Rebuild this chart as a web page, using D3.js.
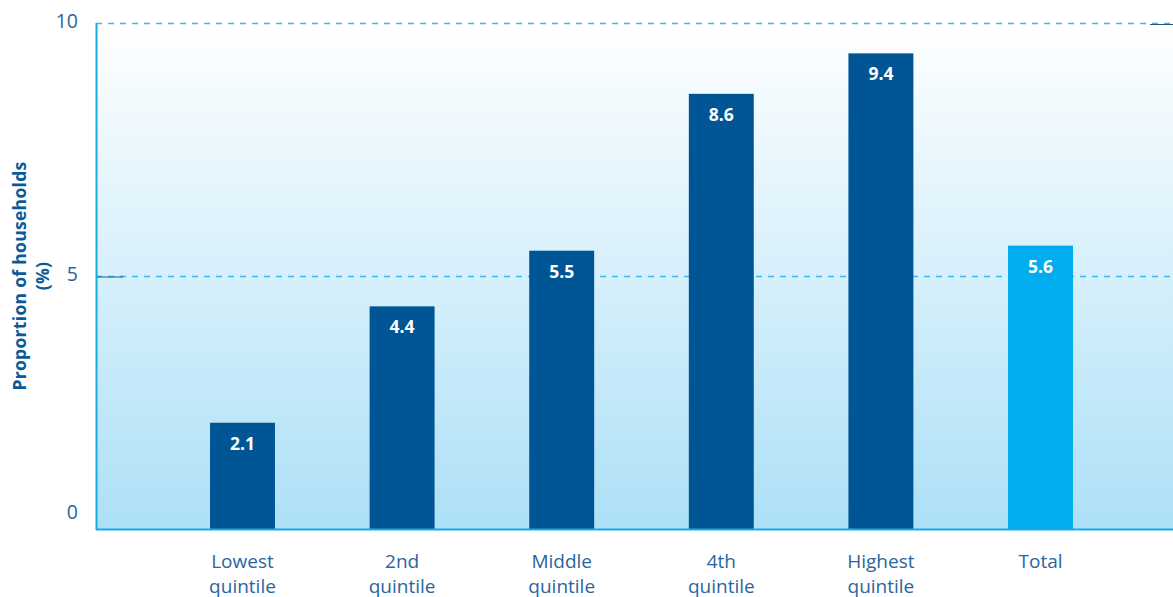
<!DOCTYPE html>
<html>
<head>
<meta charset="utf-8">
<script src="https://cdn.jsdelivr.net/npm/d3@7"></script>
<style>
  html, body { margin: 0; padding: 0; background: #ffffff; }
  svg { display: block; }
</style>
</head>
<body>
<svg id="chart" width="1173" height="597"></svg>
<script>
// Share of households by income quintile
const categories = [["Lowest", "quintile"], ["2nd", "quintile"], ["Middle", "quintile"], ["4th", "quintile"], ["Highest", "quintile"], ["Total"]];
const values = [2.1, 4.4, 5.5, 8.6, 9.4, 5.6];
const isTotal = [false, false, false, false, false, true];
const yTicks = [0, 5, 10];
const yTitle = ["Proportion of households", "(%)"];

const W = 1173, H = 597;
const plot = { left: 96, right: 1173, top: 23, bottom: 529 };

const svg = d3.select("#chart");

const keys = categories.map(c => c.join(" "));
const x = d3.scaleBand()
  .domain(keys)
  .range([162.7, 1120.3])
  .paddingInner(0.593)
  .paddingOuter(0.2965);

const y = d3.scaleLinear().domain([0, 10]).range([plot.bottom, plot.top]);

// background gradient of the plotting area
const defs = svg.append("defs");
const grad = defs.append("linearGradient")
  .attr("id", "bg").attr("x1", 0).attr("y1", 0).attr("x2", 0).attr("y2", 1);
grad.append("stop").attr("offset", "0%").attr("stop-color", "#ffffff");
grad.append("stop").attr("offset", "100%").attr("stop-color", "#ade0f7");

svg.append("rect")
  .attr("x", plot.left).attr("y", plot.top)
  .attr("width", plot.right - plot.left)
  .attr("height", plot.bottom - plot.top)
  .attr("fill", "url(#bg)");

// dashed gridlines
svg.append("g")
  .selectAll("line")
  .data(yTicks.filter(t => t > 0))
  .join("line")
  .attr("x1", plot.left).attr("x2", plot.right)
  .attr("y1", d => y(d) + 0.5).attr("y2", d => y(d) + 0.5)
  .attr("stroke", "#3cb8ea")
  .attr("stroke-width", 1.3)
  .attr("stroke-dasharray", "6,6");

// short dark tick marks
svg.append("line")
  .attr("x1", plot.left).attr("x2", plot.left + 27)
  .attr("y1", y(5) + 1).attr("y2", y(5) + 1)
  .attr("stroke", "#1b5a8c").attr("stroke-width", 1);
svg.append("line")
  .attr("x1", plot.right - 23).attr("x2", plot.right)
  .attr("y1", y(10) + 1.5).attr("y2", y(10) + 1.5)
  .attr("stroke", "#1b5a8c").attr("stroke-width", 1);

// bars
const data = keys.map((k, i) => ({ key: k, value: values[i], total: isTotal[i] }));
svg.append("g")
  .selectAll("rect")
  .data(data)
  .join("rect")
  .attr("x", d => x(d.key))
  .attr("width", x.bandwidth())
  .attr("y", d => y(d.value))
  .attr("height", d => y(0) - y(d.value))
  .attr("fill", d => d.total ? "#00adee" : "#005594");

// value labels
svg.append("g")
  .selectAll("text")
  .data(data)
  .join("text")
  .attr("x", d => x(d.key) + x.bandwidth() / 2)
  .attr("y", d => y(d.value) + 27)
  .attr("text-anchor", "middle")
  .attr("fill", "#ffffff")
  .attr("font-family", "'Open Sans', sans-serif")
  .attr("font-weight", 700)
  .attr("font-size", 17.5)
  .text(d => d.value.toFixed(1));

// axis lines
svg.append("line")
  .attr("x1", plot.left + 0.5).attr("x2", plot.left + 0.5)
  .attr("y1", plot.top).attr("y2", plot.bottom + 1)
  .attr("stroke", "#1aaae2").attr("stroke-width", 2);
svg.append("line")
  .attr("x1", plot.left).attr("x2", plot.right)
  .attr("y1", plot.bottom + 0.5).attr("y2", plot.bottom + 0.5)
  .attr("stroke", "#1aaae2").attr("stroke-width", 2);

// y tick labels (the zero label sits just above the baseline)
svg.append("g")
  .selectAll("text")
  .data(yTicks)
  .join("text")
  .attr("x", 78)
  .attr("y", d => y(d) - (d === 0 ? 17 : 2))
  .attr("dy", "0.35em")
  .attr("text-anchor", "end")
  .attr("fill", "#2a65a0")
  .attr("font-family", "'Open Sans', sans-serif")
  .attr("font-size", 19.5)
  .text(d => d);

// x category labels
const xl = svg.append("g")
  .selectAll("text")
  .data(categories)
  .join("text")
  .attr("text-anchor", "middle")
  .attr("fill", "#2a65a0")
  .attr("font-family", "'Open Sans', sans-serif")
  .attr("font-size", 19);
xl.each(function(c, i) {
  const cx = x(keys[i]) + x.bandwidth() / 2;
  d3.select(this).selectAll("tspan")
    .data(c)
    .join("tspan")
    .attr("x", cx)
    .attr("y", (d, j) => 568 + j * 25)
    .text(d => d);
});

// y axis title
const yt = svg.append("text")
  .attr("transform", `translate(26, ${y(5)}) rotate(-90)`)
  .attr("text-anchor", "middle")
  .attr("fill", "#0b5a98")
  .attr("font-family", "'Open Sans', sans-serif")
  .attr("font-weight", 700)
  .attr("font-size", 17.5)
  .attr("letter-spacing", 0.3);
yt.selectAll("tspan")
  .data(yTitle)
  .join("tspan")
  .attr("x", 0)
  .attr("y", (d, j) => j * 23)
  .text(d => d);
</script>
</body>
</html>
